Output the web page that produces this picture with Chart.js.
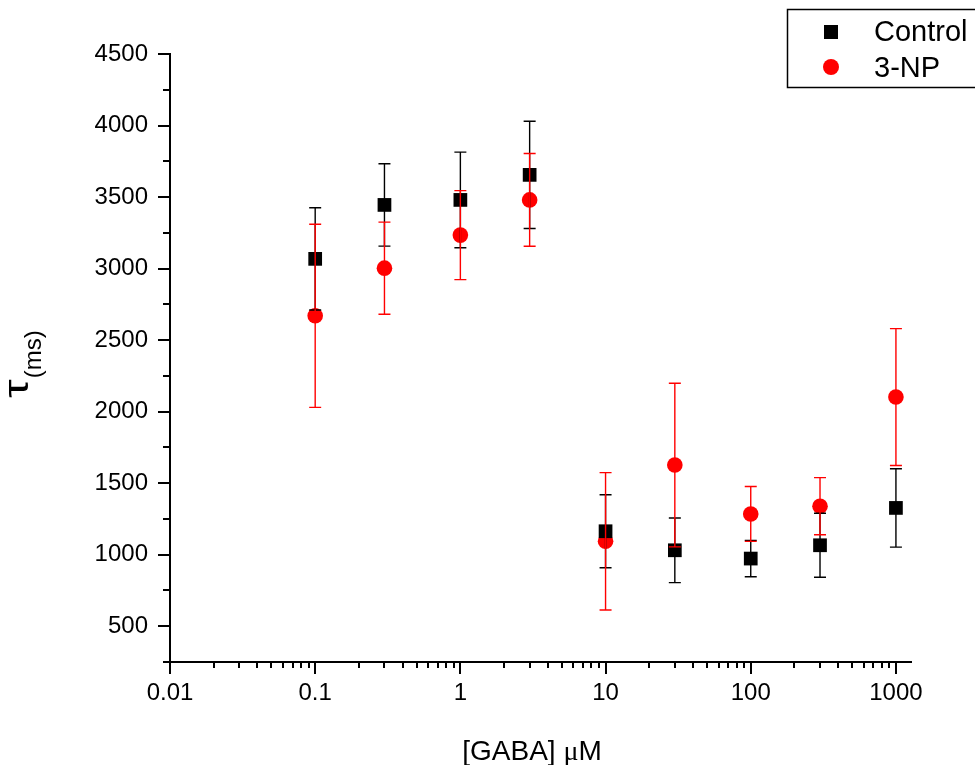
<!DOCTYPE html>
<html>
<head>
<meta charset="utf-8">
<script src="https://cdn.jsdelivr.net/npm/chart.js@4.4.0/dist/chart.umd.min.js"></script>
<style>
  html, body { margin: 0; padding: 0; background: #fff; }
  canvas { display: block; }
</style>
</head>
<body>
<canvas id="chartCanvas" width="975" height="765"></canvas>
<script>
"use strict";

// [GABA] in uM
const gabaConc = [0.1, 0.3, 1, 3, 10, 30, 100, 300, 1000];

// tau (ms) and error
const controlTau = [3068, 3445, 3480, 3655, 1164, 1031, 973, 1066, 1327];
const controlErr = [357, 288, 334, 375, 255, 226, 127, 224, 274];
const npTau = [2670, 3003, 3234, 3480, 1094, 1627, 1285, 1339, 2102];
const npErr = [640, 322, 311, 324, 480, 572, 192, 200, 478];

const xTickValues = [0.01, 0.1, 1, 10, 100, 1000];
const xTickLabels = ['0.01', '0.1', '1', '10', '100', '1000'];
const yTickValues = [500, 1000, 1500, 2000, 2500, 3000, 3500, 4000, 4500];
const yTickLabels = ['500', '1000', '1500', '2000', '2500', '3000', '3500', '4000', '4500'];

const FONT = "'Liberation Sans', Arial, sans-serif";
const RED = '#ff0000';

const errors = [controlErr, npErr];

const decorations = {
    id: 'decorations',
    afterDatasetsDraw(chart) {
        const ctx = chart.ctx;
        const xs = chart.scales.x, ys = chart.scales.y;
        chart.data.datasets.forEach((ds, i) => {
            ctx.save();
            ctx.strokeStyle = ds.backgroundColor;
            ctx.lineWidth = 1.4;
            ds.data.forEach((p, j) => {
                const e = errors[i][j];
                const px = xs.getPixelForValue(p.x);
                const top = ys.getPixelForValue(p.y + e);
                const bot = ys.getPixelForValue(p.y - e);
                ctx.beginPath();
                ctx.moveTo(px, top); ctx.lineTo(px, bot);
                ctx.moveTo(px - 6, top); ctx.lineTo(px + 6, top);
                ctx.moveTo(px - 6, bot); ctx.lineTo(px + 6, bot);
                ctx.stroke();
            });
            ctx.restore();
        });
    },
    afterDraw(chart) {
        const ctx = chart.ctx;
        const xs = chart.scales.x, ys = chart.scales.y;
        const area = chart.chartArea;
        ctx.save();
        ctx.strokeStyle = '#000';
        ctx.lineWidth = 2;
        ctx.beginPath();
        // y ticks, major + minor
        yTickValues.forEach(v => {
            const py = Math.round(ys.getPixelForValue(v));
            ctx.moveTo(area.left - 12, py); ctx.lineTo(area.left, py);
        });
        for (let v = 250; v < 4500; v += 500) {
            const py = Math.round(ys.getPixelForValue(v));
            ctx.moveTo(area.left - 7, py); ctx.lineTo(area.left, py);
        }
        // x ticks
        xTickValues.forEach(v => {
            const px = Math.round(xs.getPixelForValue(v));
            ctx.moveTo(px, area.bottom); ctx.lineTo(px, area.bottom + 12);
        });
        for (let e = -2; e <= 2; e++) {
            for (let k = 2; k <= 9; k++) {
                const px = Math.round(xs.getPixelForValue(k * Math.pow(10, e)));
                ctx.moveTo(px, area.bottom); ctx.lineTo(px, area.bottom + 6);
            }
        }
        ctx.stroke();

        // x title
        ctx.fillStyle = '#000';
        ctx.textBaseline = 'alphabetic';
        ctx.textAlign = 'left';
        const f1 = '28px ' + FONT, f2 = "28px 'Liberation Serif', serif";
        ctx.font = f1;
        const w1 = ctx.measureText('[GABA] ').width;
        const w3 = ctx.measureText('M').width;
        ctx.font = f2;
        const w2 = ctx.measureText('\u03bc').width;
        let tx = 532 - (w1 + w2 + w3) / 2;
        ctx.font = f1; ctx.fillText('[GABA] ', tx, 760);
        ctx.font = f2; ctx.fillText('\u03bc', tx + w1, 760);
        ctx.font = f1; ctx.fillText('M', tx + w1 + w2, 760);

        // y title: big tau with (ms) as subscript
        ctx.save();
        ctx.translate(0, 358);
        ctx.rotate(-Math.PI / 2);
        ctx.font = '35px ' + FONT;
        const wt = ctx.measureText('\u03c4').width * 1.35;
        ctx.save();
        ctx.translate(-40, 28);
        ctx.scale(1.35, 1);
        ctx.fillText('\u03c4', 0, 0);
        ctx.restore();
        ctx.font = '24px ' + FONT;
        ctx.fillText('(ms)', -40 + wt + 1, 41);
        ctx.restore();

        // legend
        ctx.lineWidth = 1.5;
        ctx.strokeRect(787.5, 9.5, 200, 78);
        ctx.fillStyle = '#000';
        ctx.fillRect(824, 25, 14, 14);
        ctx.fillStyle = RED;
        ctx.beginPath();
        ctx.arc(831, 67, 8, 0, Math.PI * 2);
        ctx.fill();
        ctx.fillStyle = '#000';
        ctx.font = '29px ' + FONT;
        ctx.fillText(chart.data.datasets[0].label, 874, 41);
        ctx.fillText(chart.data.datasets[1].label, 874, 77);
        ctx.restore();
    }
};

const ctx = document.getElementById('chartCanvas').getContext('2d');
const plot = new Chart(ctx, {
    type: 'scatter',
    data: {
        datasets: [
            {
                label: 'Control',
                data: gabaConc.map((c, i) => ({ x: c, y: controlTau[i] })),
                pointStyle: 'rect',
                pointRadius: 9.7,
                backgroundColor: '#000',
                borderWidth: 0
            },
            {
                label: '3-NP',
                data: gabaConc.map((c, i) => ({ x: c, y: npTau[i] })),
                pointStyle: 'circle',
                pointRadius: 7.8,
                backgroundColor: RED,
                borderWidth: 0
            }
        ]
    },
    options: {
        responsive: false,
        devicePixelRatio: 1,
        animation: false,
        layout: { padding: { left: 0, top: 54, right: 64, bottom: 0 } },
        plugins: {
            legend: { display: false },
            tooltip: { enabled: false }
        },
        scales: {
            x: {
                type: 'logarithmic',
                min: 0.01,
                max: 1270,
                grid: { display: false, drawTicks: false },
                border: { display: true, width: 2, color: '#000' },
                afterBuildTicks: (scale) => {
                    scale.ticks = xTickValues.map(v => ({ value: v }));
                },
                afterFit: (scale) => { scale.height = 103; },
                ticks: {
                    autoSkip: false,
                    maxRotation: 0,
                    padding: 17,
                    color: '#000',
                    font: { family: FONT, size: 24 },
                    callback: (value, index) => xTickLabels[index]
                }
            },
            y: {
                type: 'linear',
                min: 250,
                max: 4500,
                grid: { display: false, drawTicks: false },
                border: { display: true, width: 2, color: '#000' },
                afterBuildTicks: (scale) => {
                    scale.ticks = yTickValues.map(v => ({ value: v }));
                },
                afterFit: (scale) => { scale.width = 170; },
                ticks: {
                    autoSkip: false,
                    padding: 22,
                    color: '#000',
                    font: { family: FONT, size: 24 },
                    callback: (value, index) => yTickLabels[index]
                }
            }
        }
    },
    plugins: [decorations]
});
</script>
</body>
</html>
